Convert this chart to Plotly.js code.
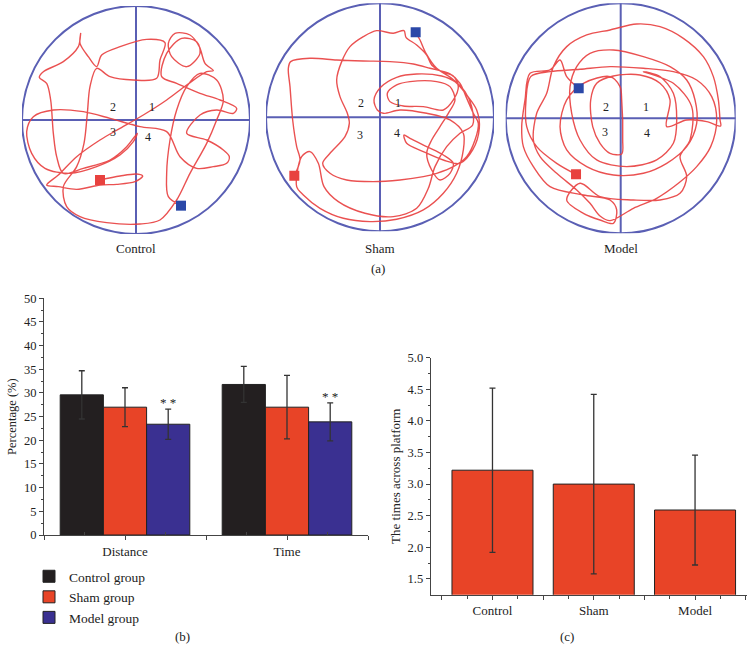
<!DOCTYPE html>
<html>
<head>
<meta charset="utf-8">
<script src="https://cdn.plot.ly/plotly-3.0.1.min.js"></script>
<style>html,body{margin:0;padding:0;background:#fff;}#chart{width:756px;height:655px;}</style>
</head>
<body>
<div id="chart"></div>
<script>
// ---------- Panel (b): percentage in target quadrant ----------
const measures = ['Distance', 'Time'];
const groupNames = ['Control group', 'Sham group', 'Model group'];
const controlPct = [29.6, 31.8];
const controlPctErr = [5.1, 3.8];
const shamPct = [27.0, 27.0];
const shamPctErr = [4.1, 6.7];
const modelPct = [23.4, 23.9];
const modelPctErr = [3.2, 4.0];
const significance = ['**', '**'];

// ---------- Panel (c): platform crossings ----------
const crossGroups = ['Control', 'Sham', 'Model'];
const crossTimes = [3.22, 3.00, 2.59];
const crossErr = [1.30, 1.42, 0.87];

const quadrantLabels = ['1', '2', '3', '4'];
const controlPath = [
 [300,540],[360,528],[410,522],[428,528],[405,545],[350,553],[300,555],[230,568],[175,560],[140,555],
 [175,525],[230,470],[300,420],[360,385],[430,345],[500,300],[560,255],[620,215],[640,212],
 [615,190],[598,140],[570,105],[525,100],[505,130],[515,170],[560,200],[600,160],[590,125],[545,115],[500,160],[485,230],
 [530,250],[600,280],[660,300],[710,325],[700,340],[650,330],[600,345],[560,400],[620,420],[670,450],[688,470],[680,490],[640,500],[590,505],
 [540,470],[500,395],[420,380],[330,355],[250,335],[160,330],[100,350],[80,395],[95,460],[135,505],[210,520],[290,500],[360,465],[400,425],[412,400],
 [380,440],[330,480],[250,505],[190,520],[170,470],[160,400],[152,300],[140,250],[118,232],[130,215],[190,185],[235,140],[242,100],
 [240,130],[265,170],[290,200],[305,165],[360,140],[440,118],[495,128],[480,180],[470,235],[400,240],[330,230],[290,205],
 [270,260],[262,340],[252,430],[230,500],[190,560],[200,620],[240,650],[320,668],[420,672],[480,660],[530,600],[570,520],
 [620,430],[650,360],[670,300],[650,240],[600,220],[560,260],[530,330],[510,420],[500,520],[505,590],[543,617]
];
const shamPath = [
 [133,527],[150,480],[140,440],[128,360],[120,260],[115,205],[122,185],[180,175],[260,180],[340,183],[420,185],[490,192],
 [540,205],[600,222],[630,250],[648,290],[670,340],[685,370],[675,420],[650,470],[610,500],[560,520],[520,530],[450,540],
 [370,545],[290,540],[240,520],[218,490],[240,460],[285,410],[298,370],[292,340],[270,290],[260,240],[275,185],[300,140],
 [340,110],[380,92],[430,100],[462,92],[468,112],[500,135],[530,165],[545,195],[575,215],[610,228],[625,260],[610,300],
 [580,330],[520,320],[460,318],[420,305],[412,280],[440,255],[480,245],[560,245],[600,260],[615,300],[595,340],[570,380],
 [545,420],[530,460],[545,510],[570,540],[600,520],[610,490],[580,465],[530,440],[480,415],[462,405],
 [470,430],[520,455],[580,480],[630,490],[668,450],[688,385],[680,330],[650,285],[615,245],[575,228],[500,222],[440,232],
 [392,262],[372,300],[382,330],[400,340],[450,330],[530,340],[600,360],[640,400],[640,450],[620,520],[580,580],[520,630],
 [440,658],[360,665],[280,655],[210,625],[160,585],[140,560],[155,470],[180,455],[205,490],[222,560],[265,605],[345,640],
 [430,650],[500,625],[535,565],[555,500],[590,440],[630,400],[668,375],[665,320],[645,275],[605,235],[560,205],[528,160],
 [510,120],[497,97]
];
const modelPath = [
 [228,523],[170,490],[110,440],[80,380],[78,300],[92,230],[150,215],[240,208],[330,200],[430,205],[520,215],[590,240],
 [635,290],[650,360],[632,440],[590,500],[535,550],[470,595],[400,625],[330,662],[300,648],[270,610],[230,570],[170,520],
 [120,470],[100,420],[110,340],[140,280],[160,200],[200,140],[260,105],[330,90],[410,72],[480,80],[550,115],[610,170],
 [640,230],[655,300],[660,360],[662,378],[620,365],[560,360],[500,380],[510,300],[480,250],[420,225],[340,228],[290,250],
 [272,300],[278,380],[300,430],[330,460],[365,462],[368,420],[365,300],[360,260],[330,230],[250,250],[200,300],[180,380],
 [200,450],[260,500],[340,525],[430,520],[500,490],[560,440],[590,370],[585,300],[560,240],[510,200],[430,170],[340,150],
 [270,160],[230,200],[210,260],[215,340],[240,420],[290,480],[380,500],[470,480],[520,430],[530,360],[520,280],[480,230],
 [430,215],[520,250],[575,320],[570,420],[540,470],[560,530],[540,580],[480,600],[400,600],[300,590],[240,550],[200,600],
 [250,640],[300,660],[340,670],[350,630],[330,600],[250,585],[150,560],[100,500],[70,440],[65,380],[75,300],[90,220],
 [150,210],[180,180],[200,230],[236,265]
];
const startPoints = {control:[300,540], sham:[133,527], model:[228,523]};
const platformPoints = {control:[543,617], sham:[497,97], model:[236,265]};
const quadPos = {
  control: [[455,320],[338,322],[340,395],[445,410]],
  sham:    [[443,310],[333,310],[330,405],[440,400]],
  model:   [[438,320],[318,320],[316,395],[440,400]]
};

// ---------- styling ----------
const FONT = 'Liberation Serif, Times New Roman, serif';
const BLACK = '#231f20', RED = '#e84427', BLUE = '#3a3091';
const POOL = '#5a5fb4', TRACK = 'rgba(232,62,62,0.9)';

const traces = [];
[[controlPct, controlPctErr, BLACK], [shamPct, shamPctErr, RED], [modelPct, modelPctErr, BLUE]].forEach((d, i) => {
  traces.push({
    type: 'bar', xaxis: 'x', yaxis: 'y',
    name: groupNames[i], x: measures.map((m, j) => j), y: d[0],
    marker: {color: d[2], line: {color: '#222', width: 1}},
    error_y: {type: 'data', array: d[1], visible: true, color: '#333', thickness: 1.3, width: 3}
  });
});
traces.push({
  type: 'bar', xaxis: 'x2', yaxis: 'y2', showlegend: false, name: 'Crossings',
  x: crossGroups.map((g, j) => j), y: crossTimes,
  marker: {color: RED, line: {color: '#222', width: 1}},
  error_y: {type: 'data', array: crossErr, visible: true, color: '#333', thickness: 1.3, width: 3}
});

const pools = [
  {key:'control', path: controlPath, ax: '3', cx: 408, cy: 360, r: 342},
  {key:'sham', path: shamPath, ax: '4', cx: 390, cy: 352, r: 342},
  {key:'model', path: modelPath, ax: '5', cx: 362, cy: 355, r: 345}
];
const shapes = [];
const annotations = [];
pools.forEach(p => {
  const xa = 'x' + p.ax, ya = 'y' + p.ax;
  traces.push({type:'scatter', mode:'lines', xaxis: xa, yaxis: ya, showlegend:false, hoverinfo:'skip',
    x: p.path.map(q => q[0]), y: p.path.map(q => q[1]),
    line: {color: TRACK, width: 1.4, shape: 'spline', smoothing: 0.9}});
  traces.push({type:'scatter', mode:'markers', xaxis: xa, yaxis: ya, showlegend:false,
    x: [startPoints[p.key][0]], y: [startPoints[p.key][1]],
    marker: {symbol:'square', size: 10, color: '#e8423f'}});
  traces.push({type:'scatter', mode:'markers', xaxis: xa, yaxis: ya, showlegend:false,
    x: [platformPoints[p.key][0]], y: [platformPoints[p.key][1]],
    marker: {symbol:'square', size: 10, color: '#2b48a8'}});
  shapes.push({type:'circle', xref: xa, yref: ya, x0: p.cx - p.r, x1: p.cx + p.r, y0: p.cy - p.r, y1: p.cy + p.r,
    line: {color: POOL, width: 2}, layer: 'below'});
  shapes.push({type:'line', xref: xa, yref: ya, x0: p.cx - p.r, x1: p.cx + p.r, y0: p.cy, y1: p.cy,
    line: {color: POOL, width: 2}, layer: 'below'});
  shapes.push({type:'line', xref: xa, yref: ya, x0: p.cx, x1: p.cx, y0: p.cy - p.r, y1: p.cy + p.r,
    line: {color: POOL, width: 2}, layer: 'below'});
  quadPos[p.key].forEach((q, i) => {
    annotations.push({xref: xa, yref: ya, x: q[0], y: q[1], text: quadrantLabels[i], showarrow: false,
      font: {family: FONT, size: 12, color: '#222'}});
  });
});

const W = 756, H = 655;
const px = v => v / W, py = v => 1 - v / H;
// panel labels
[['Control', 136, 248], ['Sham', 380, 248], ['Model', 621, 248], ['(a)', 378, 268], ['(b)', 182, 636], ['(c)', 567, 636]]
  .forEach(t => annotations.push({xref:'paper', yref:'paper', x: px(t[1]), y: py(t[2]), text: t[0], showarrow:false,
    xanchor:'center', yanchor:'middle', font:{family: FONT, size: 13, color:'#222'}}));
// significance marks
significance.forEach((s, j) => annotations.push({xref:'x', yref:'y', x: j + 0.8/3, y: modelPct[j] + modelPctErr[j] + 1.3,
  text: '*&nbsp;*', showarrow:false, yanchor:'middle', font:{family: FONT, size: 13, color:'#222'}}));

const axisLine = {showline: true, linecolor: '#444', linewidth: 1, showgrid: false, zeroline: false,
  ticks: 'outside', ticklen: 4, tickcolor: '#444', tickfont: {family: FONT, size: 13, color: '#222'}, fixedrange: true};
const hidden = {visible: false, fixedrange: true};

const layout = {
  width: W, height: H, margin: {l:0, r:0, t:0, b:0}, paper_bgcolor: '#fff', plot_bgcolor: 'rgba(0,0,0,0)',
  font: {family: FONT, color: '#222'},
  barmode: 'group', bargap: 0.2, bargroupgap: 0,
  showlegend: true,
  legend: {x: px(29), y: py(561), xanchor: 'left', yanchor: 'top', font: {family: FONT, size: 13.5, color: '#222'},
    itemwidth: 30, bgcolor: 'rgba(0,0,0,0)', traceorder: 'normal'},
  xaxis: Object.assign({}, axisLine, {domain: [px(44), px(368)], range: [-0.5, 1.5], anchor: 'y',
    tickmode: 'array', tickvals: [-0.5, 0, 0.5, 1, 1.5], ticktext: ['', measures[0], '', measures[1], ''],
    minor: {tickmode: 'array', tickvals: [-0.25, 0.25, 0.75, 1.25], ticks: 'inside', ticklen: 3, tickcolor: '#444'}}),
  yaxis: Object.assign({}, axisLine, {domain: [py(535), py(298.3)], range: [0, 50], anchor: 'x',
    tickmode: 'linear', tick0: 0, dtick: 5, tickfont: {family: FONT, size: 12.5, color: '#222'},
    minor: {dtick: 2.5, ticks: 'outside', ticklen: 2, tickcolor: '#444'},
    title: {text: 'Percentage (%)', font: {family: FONT, size: 12.5, color: '#222'}, standoff: 4}}),
  xaxis2: Object.assign({}, axisLine, {domain: [px(430.7), px(746.7)], range: [-0.61, 2.51], anchor: 'y2',
    tickmode: 'array', tickvals: [-0.5, 0, 0.5, 1, 1.5, 2, 2.5], ticktext: ['', crossGroups[0], '', crossGroups[1], '', crossGroups[2], ''],
    minor: {tickmode: 'array', tickvals: [-0.25, 0.25, 0.75, 1.25, 1.75, 2.25], ticks: 'outside', ticklen: 3, tickcolor: '#444'}}),
  yaxis2: Object.assign({}, axisLine, {domain: [py(594.7), py(357.7)], range: [1.25, 5.0], anchor: 'x2',
    tickmode: 'array', tickvals: [1.5, 2, 2.5, 3, 3.5, 4, 4.5, 5], ticktext: ['1.5','2.0','2.5','3.0','3.5','4.0','4.5','5.0'],
    tickfont: {family: FONT, size: 12.5, color: '#222'},
    minor: {tickmode: 'array', tickvals: [1.75, 2.25, 2.75, 3.25, 3.75, 4.25, 4.75], ticks: 'outside', ticklen: 2, tickcolor: '#444'},
    title: {text: 'The times across platform', font: {family: FONT, size: 13, color: '#222'}, standoff: 4}}),
  xaxis3: Object.assign({}, hidden, {domain: [px(22), px(250)], range: [66, 750], anchor: 'y3'}),
  yaxis3: Object.assign({}, hidden, {domain: [py(234), py(6)], range: [702, 18], anchor: 'x3'}),
  xaxis4: Object.assign({}, hidden, {domain: [px(266), px(494)], range: [48, 732], anchor: 'y4'}),
  yaxis4: Object.assign({}, hidden, {domain: [py(231.3), py(3.3)], range: [694, 10], anchor: 'x4'}),
  xaxis5: Object.assign({}, hidden, {domain: [px(505.7), px(735.7)], range: [17, 707], anchor: 'y5'}),
  yaxis5: Object.assign({}, hidden, {domain: [py(233.3), py(3.3)], range: [700, 10], anchor: 'x5'}),
  shapes: shapes, annotations: annotations
};

Plotly.newPlot('chart', traces, layout, {displayModeBar: false, staticPlot: true});
</script>
</body>
</html>
